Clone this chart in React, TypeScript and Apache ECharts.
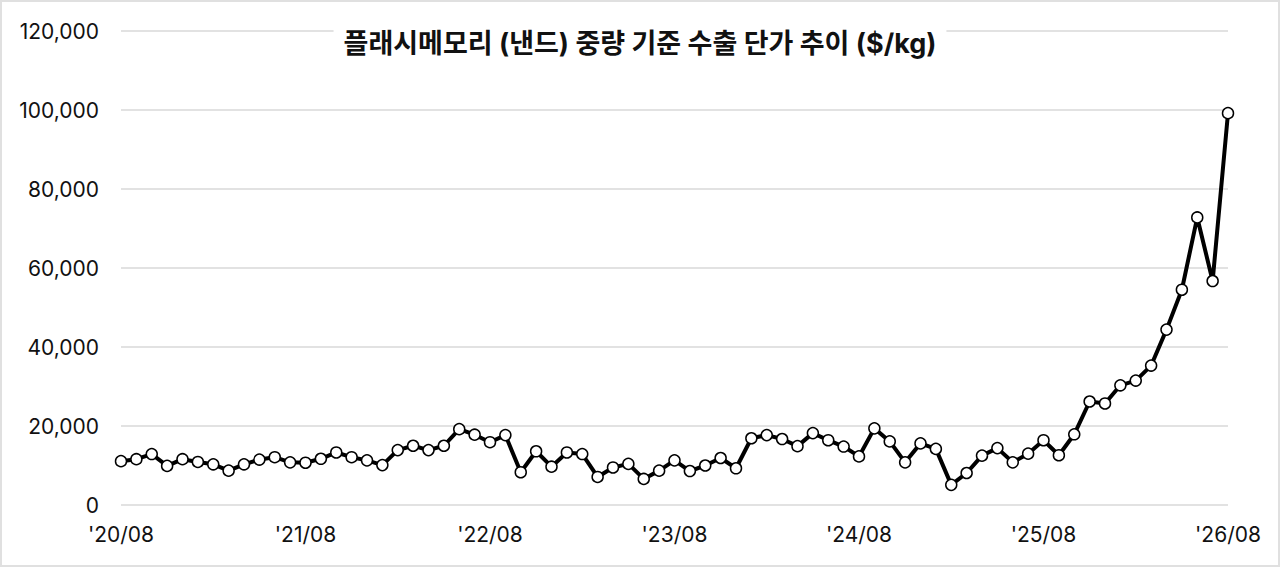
import React, { useEffect, useRef } from "react";
import * as echarts from "echarts";

const titleText = "플래시메모리 (낸드) 중량 기준 수출 단가 추이 ($/kg)";

const yearLabels = ["'20", "'21", "'22", "'23", "'24", "'25", "'26"];

const prices = [
  11100, 11600, 12900, 9900, 11600, 10900, 10300, 8700, 10300, 11500, 12100, 10800,
  10700, 11700, 13300, 12100, 11300, 10100, 13900, 15000, 13900, 15000, 19200, 17800,
  15900, 17700, 8300, 13600, 9700, 13300, 12900, 7100, 9500, 10400, 6600, 8700,
  11300, 8600, 10000, 11900, 9300, 16900, 17700, 16700, 14900, 18200, 16400, 14800,
  12300, 19400, 16100, 10800, 15600, 14200, 5100, 8100, 12500, 14400, 10800, 13000,
  16400, 12600, 17900, 26200, 25700, 30300, 31500, 35300, 44400, 54500, 72800, 56700,
  99200,
];

const months = ["08", "09", "10", "11", "12", "01", "02", "03", "04", "05", "06", "07"];

function buildCategories(): string[] {
  const out: string[] = [];
  for (let i = 0; i < prices.length; i++) {
    const yearIdx = Math.floor((i + 7) / 12);
    const m = months[i % 12];
    out.push(`${yearLabels[Math.min(yearIdx, yearLabels.length - 1)]}/${m}`);
  }
  return out;
}

const categories = buildCategories();

export default function App() {
  const ref = useRef<HTMLDivElement>(null);
  useEffect(() => {
    if (!ref.current) return;
    const chart = echarts.init(ref.current, undefined, { renderer: "svg" });
    const font = "Inter, 'Noto Sans CJK KR', sans-serif";
    chart.setOption({
      animation: false,
      backgroundColor: "#fff",
      textStyle: { fontFamily: font },
      title: {
        text: titleText,
        left: "center",
        top: 28,
        backgroundColor: "#fff",
        padding: [2, 10, 2, 10],
        textStyle: {
          fontFamily: font,
          fontSize: 27,
          fontWeight: "bold",
          color: "#111",
        },
      },
      grid: { left: 121, right: 52, top: 31, bottom: 62, containLabel: false },
      xAxis: {
        type: "category",
        data: categories,
        boundaryGap: false,
        axisLine: { show: false },
        axisTick: { show: false },
        axisLabel: {
          interval: (idx: number) => idx % 12 === 0,
          formatter: (v: string, idx: number) => (idx % 12 === 0 ? v : ""),
          fontSize: 21,
          color: "#111",
          fontFamily: font,
          margin: 19,
          showMaxLabel: true,
        },
        splitLine: { show: false },
      },
      yAxis: {
        type: "value",
        min: 0,
        max: 120000,
        interval: 20000,
        axisLine: { show: false },
        axisTick: { show: false },
        axisLabel: {
          fontSize: 21,
          color: "#111",
          fontFamily: font,
          margin: 22,
          formatter: (v: number) => v.toLocaleString("en-US"),
        },
        splitLine: { lineStyle: { color: "#d9d9d9", width: 1.5 } },
      },
      series: [
        {
          type: "line",
          data: prices,
          symbol: "circle",
          symbolSize: 11,
          showAllSymbol: true,
          lineStyle: { color: "#000", width: 4 },
          itemStyle: { color: "#fff", borderColor: "#000", borderWidth: 1.5 },
          z: 3,
        },
      ],
    });
    return () => chart.dispose();
  }, []);
  return (
    <div style={{ position: "fixed", left: 0, top: 0, width: 1280, height: 567, background: "#fff" }}>
      <div ref={ref} style={{ position: "absolute", left: 0, top: 0, width: 1280, height: 567 }} />
      <div
        style={{
          position: "absolute",
          left: 0,
          top: 0,
          width: 1280,
          height: 567,
          boxSizing: "border-box",
          border: "2px solid #e0e0e0",
          pointerEvents: "none",
        }}
      />
    </div>
  );
}
